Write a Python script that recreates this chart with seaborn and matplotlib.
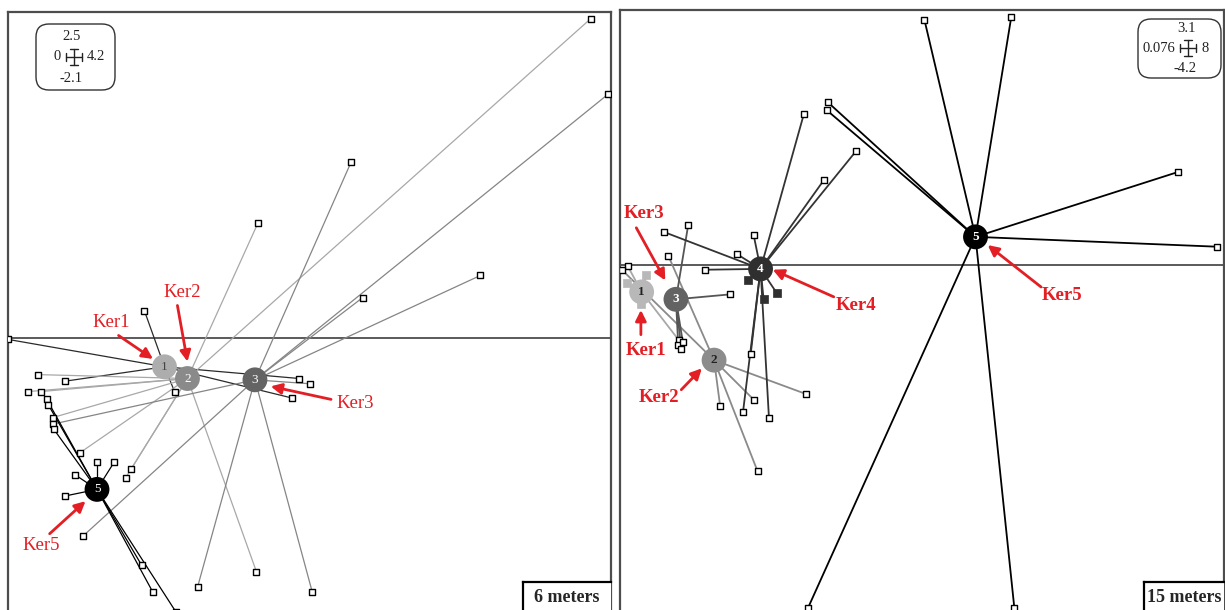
import numpy as np
import pandas as pd
import matplotlib
matplotlib.use("Agg")
import matplotlib.pyplot as plt
import seaborn as sns
from matplotlib.patches import FancyBboxPatch

sns.set_style("white")
plt.rcParams['font.family'] = ['Liberation Serif', 'DejaVu Serif']

W, H = 1225, 610
RED = '#e31e24'

# ---------------- left panel : 6 meters ----------------
p1_xlim = (0, 4.2)
p1_ylim = (-2.1, 2.5)
p1_classes = ['1', '2', '3', '5']
p1_cx = [1.09, 1.25, 1.72, 0.62]
p1_cy = [-0.22, -0.31, -0.32, -1.16]

p1_cls = ['1'] * 6 + ['2'] * 10 + ['3'] * 9 + ['5'] * 10
p1_x = [0.95, 0.00, 0.40, 1.16, 2.03, 1.98,
        4.06, 1.74, 0.21, 0.14, 0.23, 0.31, 0.50, 0.86, 0.82, 1.73,
        4.18, 2.39, 3.29, 2.47, 2.10, 0.31, 0.52, 1.32, 2.12,
        0.27, 0.28, 0.32, 0.62, 0.74, 0.47, 0.40, 0.93, 1.01, 1.17]
p1_y = [0.21, -0.01, -0.33, -0.41, -0.31, -0.46,
        2.45, 0.88, -0.28, -0.41, -0.41, -0.61, -0.88, -1.00, -1.07, -1.79,
        1.87, 1.35, 0.48, 0.31, -0.35, -0.66, -1.52, -1.91, -1.95,
        -0.47, -0.51, -0.70, -0.95, -0.95, -1.05, -1.21, -1.74, -1.95, -2.10]
p1_solid = [0] * len(p1_x)

p1_labels = ['Ker1', 'Ker2', 'Ker3', 'Ker5']
p1_lab_x = [0.72, 1.21, 2.42, 0.23]
p1_lab_y = [0.12, 0.35, -0.50, -1.59]
p1_tail_x = [0.77, 1.18, 2.25, 0.29]
p1_tail_y = [0.02, 0.25, -0.47, -1.50]
p1_head_x = [1.01, 1.25, 1.83, 0.54]
p1_head_y = [-0.16, -0.18, -0.37, -1.25]

# ---------------- right panel : 15 meters ----------------
p2_xlim = (0.076, 8)
p2_ylim = (-4.2, 3.1)
p2_classes = ['1', '2', '3', '4', '5']
p2_cx = [0.36, 1.31, 0.81, 1.92, 4.74]
p2_cy = [-0.33, -1.16, -0.42, -0.05, 0.34]

p2_cls = ['1'] * 5 + ['2'] * 6 + ['3'] * 5 + ['4'] * 13 + ['5'] * 8
p2_x = [0.18, 0.42, 0.17, 0.35, 0.85,
        0.10, 0.71, 1.39, 1.84, 2.51, 1.88,
        0.97, 1.52, 0.84, 0.90, 0.88,
        2.49, 3.17, 2.75, 1.83, 1.61, 1.19, 0.65, 1.69, 2.03, 1.79, 1.75, 1.96, 2.13,
        4.07, 5.21, 2.80, 2.79, 7.40, 7.91, 2.54, 5.25]
p2_y = [-0.02, -0.12, -0.22, -0.48, -0.92,
        -0.06, 0.11, -1.72, -1.65, -1.57, -2.51,
        0.48, -0.36, -0.98, -0.94, -1.03,
        1.84, 1.38, 1.03, 0.36, 0.13, -0.06, 0.40, -1.79, -1.86, -1.09, -0.19, -0.42, -0.34,
        2.98, 3.02, 1.98, 1.88, 1.13, 0.22, -4.18, -4.18]
p2_solid = [0, 1, 1, 1, 0,
            0, 0, 0, 0, 0, 0,
            0, 0, 0, 0, 0,
            0, 0, 0, 0, 0, 0, 0, 0, 0, 0, 1, 1, 1,
            0, 0, 0, 0, 0, 0, 0, 0]

p2_labels = ['Ker1', 'Ker2', 'Ker3', 'Ker4', 'Ker5']
p2_lab_x = [0.42, 0.59, 0.39, 3.17, 5.88]
p2_lab_y = [-1.04, -1.62, 0.63, -0.49, -0.37]
p2_tail_x = [0.35, 0.88, 0.29, 2.88, 5.60]
p2_tail_y = [-0.85, -1.52, 0.45, -0.39, -0.27]
p2_head_x = [0.35, 1.15, 0.67, 2.08, 4.90]
p2_head_y = [-0.55, -1.26, -0.19, -0.06, 0.24]

# styles
p1_circle = {'1': '#adadad', '2': '#8a8a8a', '3': '#646464', '5': '#000000'}
p1_line = {'1': '#2a2a2a', '2': '#a8a8a8', '3': '#858585', '5': '#000000'}
p1_numcol = {'1': '#444444', '2': 'white', '3': 'white', '5': 'white'}
p2_circle = {'1': '#b8b8b8', '2': '#8c8c8c', '3': '#636363', '4': '#2f2f2f', '5': '#000000'}
p2_line = {'1': '#a8a8a8', '2': '#8a8a8a', '3': '#555555', '4': '#333333', '5': '#000000'}
p2_numcol = {'1': '#222222', '2': '#222222', '3': 'white', '4': 'white', '5': 'white'}


def star_panel(ax, classes, cx, cy, cls, x, y, solid, circ, lcol, numcol, lw, bold):
    cen = pd.DataFrame({'cls': classes, 'cx': cx, 'cy': cy})
    pts = pd.DataFrame({'cls': cls, 'x': x, 'y': y, 'solid': solid}).merge(cen, on='cls')
    for _, r in pts.iterrows():
        ax.plot([r.cx, r.x], [r.cy, r.y], color=lcol[r.cls], lw=lw, zorder=2,
                solid_capstyle='butt')
    hollow = pts[pts.solid == 0]
    filled = pts[pts.solid == 1]
    sns.scatterplot(data=hollow, x='x', y='y', marker='s', s=20, color='white',
                    edgecolor='black', linewidth=1.0, legend=False, ax=ax, zorder=3)
    for c, grp in filled.groupby('cls'):
        sns.scatterplot(data=grp, x='x', y='y', marker='s', s=26, color=circ[c],
                        edgecolor=circ[c], linewidth=0.5, legend=False, ax=ax, zorder=3)
    sns.scatterplot(data=cen, x='cx', y='cy', hue='cls', palette=circ, s=320,
                    edgecolor='none', legend=False, ax=ax, zorder=4)
    for _, r in cen.iterrows():
        ax.text(r.cx, r.cy, r.cls, ha='center', va='center', fontsize=9.5,
                color=numcol[r.cls], fontweight='bold' if bold else 'normal', zorder=5)


def frame(ax, xlim, ylim):
    ax.set_xlim(*xlim)
    ax.set_ylim(*ylim)
    ax.set_xticks([])
    ax.set_yticks([])
    ax.set_xlabel('')
    ax.set_ylabel('')
    for s in ['left', 'right', 'top']:
        ax.spines[s].set_color('#4d4d4d')
        ax.spines[s].set_linewidth(1.6)
    ax.spines['bottom'].set_visible(False)
    ax.axhline(0, color='#5a5a5a', lw=1.4, zorder=1)


def labels(ax, names, lx, ly, tx, ty, hx, hy, bold):
    for n, a, b, c, d, e, f in zip(names, lx, ly, tx, ty, hx, hy):
        ax.text(a, b, n, color=RED, fontsize=13.5, ha='center', va='center',
                fontweight='bold' if bold else 'normal', zorder=6)
        ax.annotate('', xy=(e, f), xytext=(c, d), zorder=6,
                    arrowprops=dict(arrowstyle='-|>', color=RED, lw=2.0,
                                    mutation_scale=16, shrinkA=0, shrinkB=0))


def key_box(fig, left, top, w, h, cross, top_t, left_t, right_t, bot_t):
    kax = fig.add_axes([left / W, 1 - (top + h) / H, w / W, h / H])
    kax.set_xlim(0, w)
    kax.set_ylim(h, 0)
    kax.axis('off')
    kax.add_patch(FancyBboxPatch((1, 1), w - 2, h - 2,
                                 boxstyle='round,pad=0,rounding_size=13',
                                 fc='white', ec='#333333', lw=1.0))
    cxp, cyp = cross
    d, t = 8, 4
    kw = dict(color='#222222', lw=1.0)
    kax.plot([cxp - d, cxp + d], [cyp, cyp], **kw)
    kax.plot([cxp, cxp], [cyp - d, cyp + d], **kw)
    kax.plot([cxp - d, cxp - d], [cyp - t, cyp + t], **kw)
    kax.plot([cxp + d, cxp + d], [cyp - t, cyp + t], **kw)
    kax.plot([cxp - t, cxp + t], [cyp - d, cyp - d], **kw)
    kax.plot([cxp - t, cxp + t], [cyp + d, cyp + d], **kw)
    tk = dict(fontsize=10.5, color='#222222', va='center')
    kax.text(cxp - 2, cyp - 20, top_t, ha='center', **tk)
    kax.text(cxp - d - 5, cyp, left_t, ha='right', **tk)
    kax.text(cxp + d + 5, cyp, right_t, ha='left', **tk)
    kax.text(cxp - 3, cyp + 21, bot_t, ha='center', **tk)


def scale_box(fig, left, top, right, text):
    sax = fig.add_axes([left / W, -5 / H, (right - left) / W, (H - top + 5) / H])
    sax.set_xticks([])
    sax.set_yticks([])
    sax.set_facecolor('white')
    for s in ['left', 'top']:
        sax.spines[s].set_color('black')
        sax.spines[s].set_linewidth(1.6)
    sax.spines['right'].set_visible(False)
    sax.spines['bottom'].set_visible(False)
    sax.text(0.5, 1 - 16 / (H - top + 5), text, transform=sax.transAxes,
             ha='center', va='center', fontsize=13, fontweight='bold')


fig = plt.figure(figsize=(W / 100, H / 100), dpi=100)

ax1 = fig.add_axes([8 / W, -2 / H, 603 / W, 600 / H])
star_panel(ax1, p1_classes, p1_cx, p1_cy, p1_cls, p1_x, p1_y, p1_solid,
           p1_circle, p1_line, p1_numcol, 0.9, False)
frame(ax1, p1_xlim, p1_ylim)
labels(ax1, p1_labels, p1_lab_x, p1_lab_y, p1_tail_x, p1_tail_y,
       p1_head_x, p1_head_y, False)

ax2 = fig.add_axes([620 / W, 0 / H, 604 / W, 600 / H])
star_panel(ax2, p2_classes, p2_cx, p2_cy, p2_cls, p2_x, p2_y, p2_solid,
           p2_circle, p2_line, p2_numcol, 1.3, True)
frame(ax2, p2_xlim, p2_ylim)
labels(ax2, p2_labels, p2_lab_x, p2_lab_y, p2_tail_x, p2_tail_y,
       p2_head_x, p2_head_y, True)

key_box(fig, 35, 23, 81, 68, (39, 34), '2.5', '0', '4.2', '-2.1')
key_box(fig, 1137, 18, 85, 61, (51, 30), '3.1', '0.076', '8', '-4.2')

scale_box(fig, 523, 582, 611, '6 meters')
scale_box(fig, 1144, 582, 1224, '15 meters')

plt.savefig('out.png', dpi=100)
